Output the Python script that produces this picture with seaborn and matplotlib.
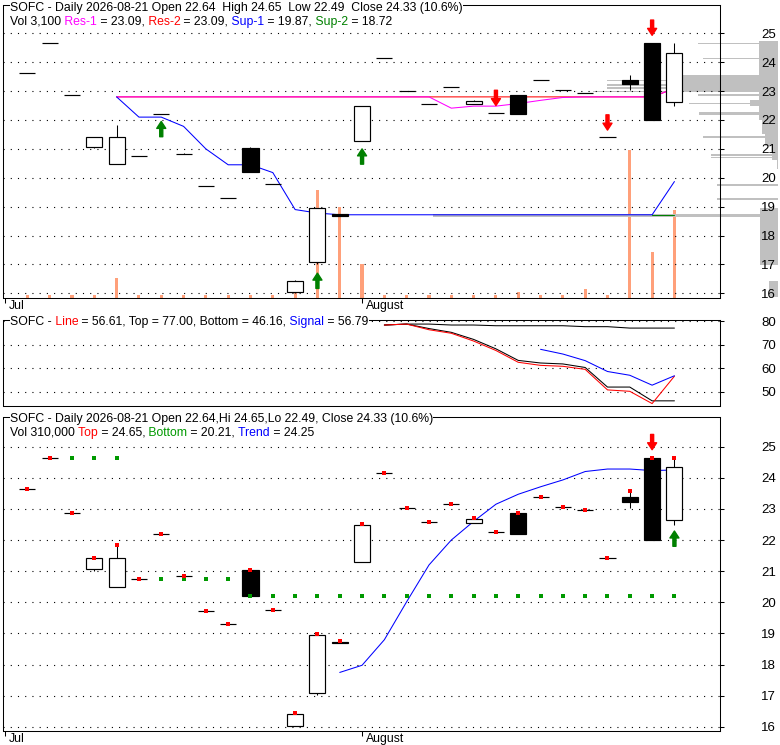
import numpy as np
import matplotlib
matplotlib.use("Agg")
import matplotlib.pyplot as plt
import matplotlib.transforms as mtransforms
import seaborn as sns

# ---------------- data ----------------
day_idx = list(range(30))
opens  = [23.63, 24.65, 22.86, 21.06, 20.48, 20.74, 22.21, 20.83, 19.71, 19.29,
          21.04, 19.77, 16.04, 17.10, 18.74, 21.28, 24.14, 23.02, 22.57, 23.15,
          22.54, 22.25, 22.86, 23.37, 23.05, 22.95, 21.41, 23.38, 24.65, 22.64]
highs  = [23.63, 24.65, 22.86, 21.42, 21.83, 20.74, 22.21, 20.85, 19.71, 19.29,
          21.05, 19.77, 16.46, 18.97, 18.76, 22.50, 24.14, 23.02, 22.57, 23.15,
          22.70, 22.25, 22.88, 23.37, 23.05, 22.95, 21.41, 23.57, 24.65, 24.65]
lows   = [23.63, 24.65, 22.86, 21.02, 20.48, 20.74, 22.21, 20.83, 19.71, 19.29,
          20.21, 19.77, 16.02, 17.02, 18.68, 21.28, 24.14, 23.02, 22.57, 23.15,
          22.54, 22.25, 22.20, 23.37, 23.05, 22.95, 21.41, 23.04, 22.01, 22.49]
closes = [23.63, 24.65, 22.86, 21.41, 21.41, 20.74, 22.21, 20.83, 19.71, 19.29,
          20.21, 19.77, 16.43, 18.95, 18.68, 22.48, 24.14, 23.02, 22.57, 23.15,
          22.67, 22.25, 22.20, 23.37, 23.05, 22.95, 21.41, 23.23, 22.01, 24.33]
volume = [10000, 10000, 10000, 10000, 70000, 10000, 10000, 10000, 10000, 10000,
          10000, 10000, 15000, 380000, 321000, 117000, 10000, 10000, 10000, 10000,
          10000, 10000, 21000, 10000, 10000, 32000, 10000, 521000, 162000, 310000]

# support / resistance (top panel)
sr_idx = list(range(4, 30))
res1 = [22.80, 22.80, 22.80, 22.80, 22.80, 22.80, 22.80, 22.80, 22.80, 22.80,
        22.80, 22.80, 22.80, 22.80, 22.80, 22.41, 22.48, 22.48, 22.57, 22.68,
        22.78, 22.80, 22.80, 22.80, 22.80, 23.09]
res2 = [22.80, 22.80, 22.80, 22.80, 22.80, 22.80, 22.80, 22.80, 22.80, 22.80,
        22.80, 22.80, 22.80, 22.80, 22.80, 22.80, 22.80, 22.80, 22.80, 22.80,
        22.80, 22.80, 22.80, 22.80, 22.80, 23.09]
sup1 = [22.80, 22.10, 22.10, 21.78, 21.00, 20.45, 20.45, 20.18, 18.90, 18.78,
        18.72, 18.72, 18.72, 18.72, 18.72, 18.72, 18.72, 18.72, 18.72, 18.72,
        18.72, 18.72, 18.72, 18.72, 18.72, 19.87]
sup2_idx = [28, 29]
sup2 = [18.72, 18.72]

# arrows
top_up_idx, top_up_tip = [6, 13, 15], [21.95, 16.70, 21.00]
top_dn_idx, top_dn_tip = [21, 26, 28], [22.50, 21.65, 24.93]
bot_up_idx, bot_up_tip = [29], [22.29]
bot_dn_idx, bot_dn_tip = [28], [24.90]

# volume-at-price profile (price, thickness, length)
vp_price = [24.65, 24.13, 23.28, 23.36, 23.21, 23.10, 22.98, 22.86, 22.58, 22.23,
            21.42, 20.79, 20.71, 19.75, 19.27, 18.70,
            23.375, 21.75, 21.30, 20.85, 20.45, 17.96, 16.15, 22.60]
vp_thick = [0.05, 0.05, 0.55, 0.05, 0.05, 0.05, 0.05, 0.05, 0.05, 0.10,
            0.07, 0.05, 0.05, 0.10, 0.06, 0.12,
            2.75, 0.50, 0.40, 0.50, 0.30, 1.96, 0.55, 0.20]
vp_len   = [80, 75, 96, 171, 171, 171, 185, 80, 89, 79,
            75, 67, 67, 61, 61, 345,
            19, 16, 13, 6, 1.5, 18, 9, 28]

# middle panel
mid_idx = list(range(16, 30))
mid_line   = [78.3, 78.7, 76.3, 74.8, 71.5, 67.5, 62.5, 61.2, 60.8, 59.5, 50.8, 50.2, 45.0, 56.61]
mid_bottom = [78.3, 78.7, 76.8, 75.2, 72.2, 68.2, 63.3, 62.2, 61.8, 60.3, 52.0, 52.0, 46.16, 46.16]
mid_top    = [78.3, 78.7, 78.7, 78.3, 78.3, 78.0, 78.0, 78.0, 78.0, 77.6, 77.6, 77.0, 77.0, 77.0]
sig_idx = list(range(23, 30))
mid_signal = [68.0, 66.0, 63.2, 58.6, 57.0, 52.8, 56.79]

# bottom panel
bot_dot_idx = [2, 3, 4, 5, 6, 7, 8, 9, 10, 11, 12, 13, 14, 15, 16, 17, 18, 19,
               20, 21, 22, 23, 24, 25, 26, 27, 28, 29]
bot_dot_val = [24.65, 24.65, 24.65, 20.75, 20.75, 20.75, 20.75, 20.75, 20.21, 20.21,
               20.21, 20.21, 20.21, 20.21, 20.21, 20.21, 20.21, 20.21, 20.21, 20.21,
               20.21, 20.21, 20.21, 20.21, 20.21, 20.21, 20.21, 20.21]
trend_idx = list(range(14, 30))
trend = [17.75, 17.98, 18.80, 20.02, 21.20, 22.00, 22.60, 23.15, 23.47, 23.71,
         23.93, 24.20, 24.28, 24.28, 24.23, 24.25]

month_pos = [-1, 15]
month_lab = ["Jul", "August"]
price_ticks = [16, 17, 18, 19, 20, 21, 22, 23, 24, 25]
mid_ticks = [50, 60, 70, 80]

# ---------------- style ----------------
sns.set_theme(style="white")
plt.rcParams["font.family"] = ["Liberation Sans", "DejaVu Sans"]
plt.rcParams["axes.edgecolor"] = "black"
plt.rcParams["axes.linewidth"] = 0.75

W, H = 780, 745
FS = 8.8
LW = 0.75
fig = plt.figure(figsize=(W / 100, H / 100), dpi=100, facecolor="white")


def axes_px(left, top, right, bottom):
    return fig.add_axes([left / W, 1 - bottom / H, (right - left) / W, (bottom - top) / H])


XL = (-1.07, 31.02)
ax1 = axes_px(3.5, 5, 719.5, 297.7)
ax2 = axes_px(3.5, 320.3, 719.5, 405.7)
ax3 = axes_px(3.5, 416.7, 719.5, 731.3)

GREEN = "#008000"
DOT = (0, (1, 5.5))


def style_axes(ax, yticks, ylim, xlabels=True):
    ax.set_xlim(*XL)
    ax.set_ylim(*ylim)
    ax.set_yticks(yticks)
    ax.yaxis.tick_right()
    ax.tick_params(axis="y", which="major", right=True, left=False, labelright=True,
                   labelleft=False, direction="out", length=3, width=0.75, pad=27,
                   labelsize=9.5, colors="black")
    ax.yaxis.grid(True, linestyle=DOT, linewidth=0.8, color="black")
    ax.xaxis.grid(False)
    ax.set_axisbelow(True)
    ax.set_xlabel("")
    ax.set_ylabel("")
    for sp in ax.spines.values():
        sp.set_color("black")
        sp.set_linewidth(0.75)
        sp.set_visible(True)
    if xlabels:
        ax.set_xticks(month_pos)
        ax.set_xticklabels(month_lab)
        ax.tick_params(axis="x", bottom=True, direction="out", length=3.6, width=0.75,
                       pad=-2.1, labelsize=FS, colors="black")
        off = mtransforms.ScaledTranslation(0.04, 0, fig.dpi_scale_trans)
        for lab in ax.get_xticklabels():
            lab.set_ha("left")
            lab.set_transform(lab.get_transform() + off)
    else:
        ax.set_xticks([])


def draw_candles(ax):
    x = np.array(day_idx)
    o = np.array(opens)
    c = np.array(closes)
    ax.vlines(x, lows, highs, color="black", linewidth=LW, zorder=3)
    lo = np.minimum(o, c)
    hgt = np.abs(c - o)
    fills = ["white" if cc > oo else "black" for oo, cc in zip(o, c)]
    ax.bar(x, hgt, bottom=lo, width=0.72, color=fills, edgecolor="black",
           linewidth=0.85, zorder=4)


def draw_arrows(ax, idx, tips, up, color):
    for i, p in zip(idx, tips):
        ax.annotate("", xy=(i, p), xytext=(0, -11 if up else 11), textcoords="offset points",
                    arrowprops=dict(facecolor=color, edgecolor=color, width=2.2,
                                    headwidth=6.5, headlength=5, shrink=0),
                    annotation_clip=False, zorder=6)


def rich_line(ax, x_px, base_px, pieces, white=False):
    bb = dict(boxstyle="square,pad=0", fc="white", ec="none") if white else None
    s, c = pieces[0]
    t = ax.annotate(s, xy=(x_px, H - base_px), xycoords="figure pixels", color=c,
                    fontsize=FS, va="baseline", ha="left", bbox=bb,
                    annotation_clip=False, zorder=10)
    for s, c in pieces[1:]:
        t = ax.annotate(s, xy=(1, 0), xycoords=t, color=c, fontsize=FS, va="bottom",
                        ha="left", bbox=bb, annotation_clip=False, zorder=10)


# ---------------- top panel ----------------
ax_vol = ax1.twinx()
ax_vp = ax1.twiny()
ax_vol.bar(day_idx, volume, width=0.14, color="#FFA07A", linewidth=0)
ax_vol.set_ylim(0, 1.031e6)
ax_vol.axis("off")
ax_vp.barh(vp_price, vp_len, height=vp_thick, left=0, color="#C0C0C0",
           linewidth=0, clip_on=False)
ax_vp.set_xlim(774.5, 58.5)
ax_vp.axis("off")
ax1.set_zorder(3)
ax1.patch.set_visible(False)

sns.lineplot(x=sr_idx, y=res2, ax=ax1, color="#FF0000", linewidth=LW,
             estimator=None, sort=False, zorder=2)
sns.lineplot(x=sr_idx, y=res1, ax=ax1, color="#FF00FF", linewidth=LW,
             estimator=None, sort=False, zorder=2)
sns.lineplot(x=sr_idx, y=sup1, ax=ax1, color="#0000FF", linewidth=LW,
             estimator=None, sort=False, zorder=2)
sns.lineplot(x=sup2_idx, y=sup2, ax=ax1, color=GREEN, linewidth=LW,
             estimator=None, sort=False, zorder=2)
draw_candles(ax1)
draw_arrows(ax1, top_up_idx, top_up_tip, True, GREEN)
draw_arrows(ax1, top_dn_idx, top_dn_tip, False, "#FF0000")
style_axes(ax1, price_ticks, (15.85, 25.98))

rich_line(ax1, 10, 10.7, [("SOFC - Daily 2026-08-21 Open 22.64  High 24.65  Low 22.49  Close 24.33 (10.6%)", "black")], white=True)
rich_line(ax1, 10, 25, [("Vol 3,100", "black"), (" Res-1", "#FF00FF"), (" = 23.09,", "black"),
                        (" Res-2", "#FF0000"), (" = 23.09,", "black"), (" Sup-1", "#0000FF"),
                        (" = 19.87,", "black"), (" Sup-2", GREEN), (" = 18.72", "black")])

# ---------------- middle panel ----------------
sns.lineplot(x=mid_idx, y=mid_top, ax=ax2, color="black", linewidth=LW,
             estimator=None, sort=False)
sns.lineplot(x=mid_idx, y=mid_bottom, ax=ax2, color="black", linewidth=LW,
             estimator=None, sort=False)
sns.lineplot(x=mid_idx, y=mid_line, ax=ax2, color="#FF0000", linewidth=LW,
             estimator=None, sort=False)
sns.lineplot(x=sig_idx, y=mid_signal, ax=ax2, color="#0000FF", linewidth=LW,
             estimator=None, sort=False)
style_axes(ax2, mid_ticks, (44.1, 80.3), xlabels=False)
rich_line(ax2, 10, 325, [("SOFC -", "black"), (" Line", "#FF0000"),
                         (" = 56.61, Top = 77.00, Bottom = 46.16,", "black"),
                         (" Signal", "#0000FF"), (" = 56.79", "black")], white=True)

# ---------------- bottom panel ----------------
sns.lineplot(x=trend_idx, y=trend, ax=ax3, color="#0000FF", linewidth=LW,
             estimator=None, sort=False, zorder=2)
draw_candles(ax3)
ax3.scatter(bot_dot_idx, bot_dot_val, marker="s", s=6, color="#009900", linewidths=0, zorder=5)
ax3.scatter(day_idx, highs, marker="s", s=5, color="#FF0000", linewidths=0, zorder=6)
draw_arrows(ax3, bot_up_idx, bot_up_tip, True, GREEN)
draw_arrows(ax3, bot_dn_idx, bot_dn_tip, False, "#FF0000")
style_axes(ax3, price_ticks, (15.86, 25.96))
rich_line(ax3, 10, 422.3, [("SOFC - Daily 2026-08-21 Open 22.64,Hi 24.65,Lo 22.49, Close 24.33 (10.6%)", "black")], white=True)
rich_line(ax3, 10, 435.7, [("Vol 310,000", "black"), (" Top", "#FF0000"), (" = 24.65,", "black"),
                           (" Bottom", "#009900"), (" = 20.21,", "black"), (" Trend", "#0000FF"),
                           (" = 24.25", "black")])

fig.savefig("out.png", dpi=100, facecolor="white")
